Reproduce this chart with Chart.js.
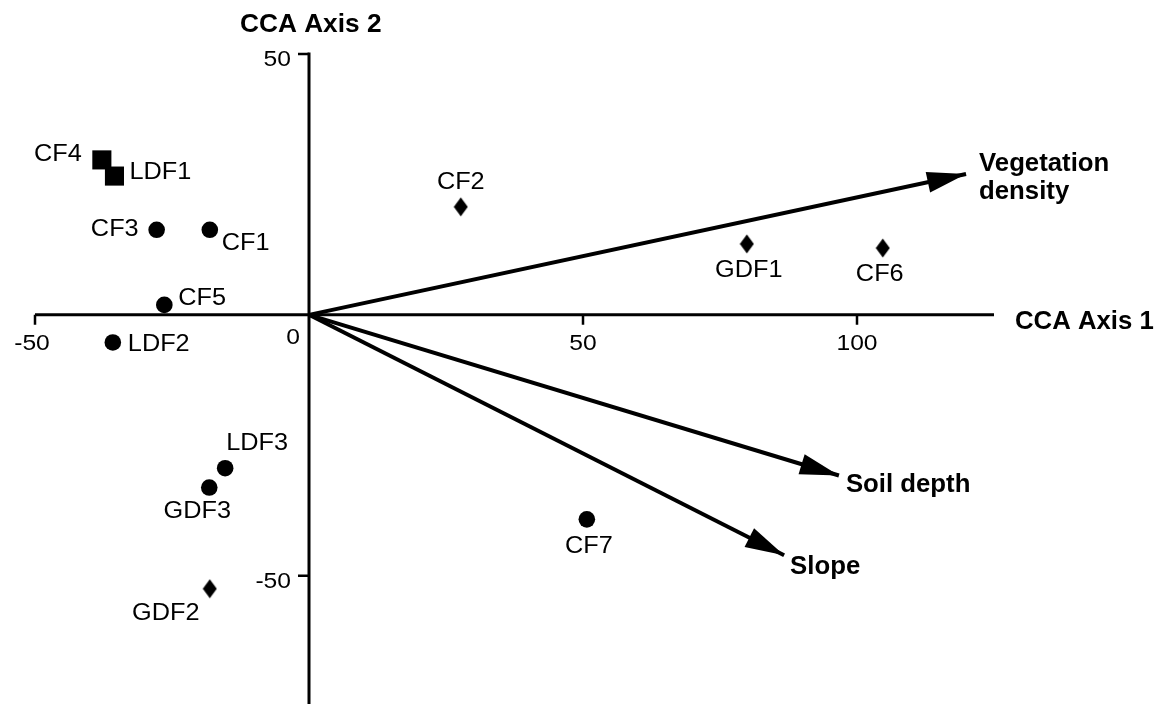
<!DOCTYPE html>
<html>
<head>
<meta charset="utf-8">
<title>CCA ordination</title>
<script src="https://cdn.jsdelivr.net/npm/chart.js@4.4.1/dist/chart.umd.min.js"></script>
<style>
  html, body { margin: 0; padding: 0; background: #fff; }
  #wrap { width: 1163px; height: 704px; position: relative; }
</style>
</head>
<body>
<div id="wrap"><canvas id="ccaChart" width="1163" height="704"></canvas></div>
<script>
// Site scores (CCA axis 1, CCA axis 2), grouped by marker
const squareSites = ["CF4", "LDF1"];
const squareX = [-37.8, -35.5];
const squareY = [29.7, 26.6];

const circleSites = ["CF3", "CF1", "CF5", "LDF2", "LDF3", "GDF3", "CF7"];
const circleX = [-27.8, -18.1, -26.4, -35.8, -15.3, -18.2, 50.7];
const circleY = [16.3, 16.3, 1.9, -5.3, -29.4, -33.1, -39.2];

const diamondSites = ["CF2", "GDF1", "CF6", "GDF2"];
const diamondX = [27.7, 79.9, 104.7, -18.1];
const diamondY = [20.7, 13.6, 12.8, -52.5];

// Environmental variable arrows (tip coordinates)
const envNames = ["Vegetation density", "Soil depth", "Slope"];
const envX = [119.9, 96.7, 86.7];
const envY = [27.0, -30.8, -46.1];

// Axis ticks
const xTicks = [-50, 50, 100];
const yTicks = [50, -50];

// Label placement relative to each marker (pixels): dx, dy, align
const labelPlacement = {
    CF4: [-20, -5, "right"],
    LDF1: [15, -3, "left"],
    CF3: [-18, 0, "right"],
    CF1: [12, 14, "left"],
    CF5: [14, -6, "left"],
    LDF2: [15, 2, "left"],
    LDF3: [1, -25, "left"],
    GDF3: [-12, 24, "center"],
    CF7: [2, 27, "center"],
    CF2: [0, -24, "center"],
    GDF1: [2, 27, "center"],
    CF6: [-3, 27, "center"],
    GDF2: [-44, 25, "center"]
};

const toPoints = (xs, ys) => xs.map((x, i) => ({ x: x, y: ys[i] }));

// Diamond marker (slightly taller than wide)
function makeDiamond() {
    const c = document.createElement("canvas");
    c.width = 15;
    c.height = 20;
    const g = c.getContext("2d");
    g.fillStyle = "#000";
    g.beginPath();
    g.moveTo(7.5, 0.5);
    g.lineTo(14.5, 10);
    g.lineTo(7.5, 19.5);
    g.lineTo(0.5, 10);
    g.closePath();
    g.fill();
    return c;
}

// Text with slight horizontal stretch like the scanned figure
function drawText(ctx, text, x, y, align, font, hscale) {
    ctx.save();
    ctx.font = font;
    ctx.fillStyle = "#000";
    ctx.textAlign = align;
    ctx.textBaseline = "middle";
    ctx.translate(x, y);
    ctx.scale(hscale, 1);
    ctx.fillText(text, 0, 0);
    ctx.restore();
}

const regFont = "23px 'Liberation Sans', Arial, sans-serif";
const tickFont = "22px 'Liberation Sans', Arial, sans-serif";
const boldFont = "bold 25px 'Liberation Sans', Arial, sans-serif";

const ordinationPlugin = {
    id: "ordination",
    beforeDatasetsDraw(chart) {
        const ctx = chart.ctx;
        const xs = chart.scales.x;
        const ys = chart.scales.y;
        const ox = xs.getPixelForValue(0);
        const oy = ys.getPixelForValue(0);

        ctx.save();
        ctx.strokeStyle = "#000";
        ctx.lineWidth = 3;
        ctx.lineCap = "butt";
        // axes through the origin
        ctx.beginPath();
        ctx.moveTo(xs.getPixelForValue(xs.min), oy);
        ctx.lineTo(xs.getPixelForValue(xs.max), oy);
        ctx.moveTo(ox, ys.getPixelForValue(ys.max) - 1.5);
        ctx.lineTo(ox, ys.getPixelForValue(ys.min));
        ctx.stroke();

        // tick marks
        ctx.lineWidth = 2.5;
        ctx.beginPath();
        xTicks.forEach(v => {
            const px = xs.getPixelForValue(v);
            ctx.moveTo(px, oy);
            ctx.lineTo(px, oy + 10);
        });
        yTicks.forEach(v => {
            const py = ys.getPixelForValue(v);
            ctx.moveTo(ox, py);
            ctx.lineTo(ox - 11, py);
        });
        ctx.stroke();
        ctx.restore();

        // tick labels
        xTicks.forEach(v => {
            drawText(ctx, String(v), xs.getPixelForValue(v) - (v < 0 ? 3 : 0), oy + 29, "center", tickFont, 1.12);
        });
        yTicks.forEach(v => {
            drawText(ctx, String(v), ox - 18, ys.getPixelForValue(v) + 6, "right", tickFont, 1.12);
        });
        drawText(ctx, "0", ox - 9, oy + 23, "right", tickFont, 1.12);

        // axis titles
        drawText(ctx, "CCA Axis 1", xs.getPixelForValue(xs.max) + 21, oy + 7, "left", boldFont, 1.03);
        drawText(ctx, "CCA Axis 2", ox - 69, 25, "left", boldFont, 1.05);
    },
    afterDatasetsDraw(chart) {
        const ctx = chart.ctx;
        const xs = chart.scales.x;
        const ys = chart.scales.y;
        const ox = xs.getPixelForValue(0);
        const oy = ys.getPixelForValue(0);

        // arrowheads
        envNames.forEach((name, i) => {
            const tx = xs.getPixelForValue(envX[i]);
            const ty = ys.getPixelForValue(envY[i]);
            const ang = Math.atan2(ty - oy, tx - ox);
            const len = 39, half = 10.5;
            const bx = tx - Math.cos(ang) * len;
            const by = ty - Math.sin(ang) * len;
            ctx.save();
            ctx.fillStyle = "#000";
            ctx.beginPath();
            ctx.moveTo(tx, ty);
            ctx.lineTo(bx - Math.sin(ang) * half, by + Math.cos(ang) * half);
            ctx.lineTo(bx + Math.sin(ang) * half, by - Math.cos(ang) * half);
            ctx.closePath();
            ctx.fill();
            ctx.restore();
        });

        // arrow labels
        const vx = xs.getPixelForValue(envX[0]);
        const vy = ys.getPixelForValue(envY[0]);
        drawText(ctx, "Vegetation", vx + 13, vy - 10, "left", boldFont, 1.03);
        drawText(ctx, "density", vx + 13, vy + 18, "left", boldFont, 1.03);
        drawText(ctx, "Soil depth", xs.getPixelForValue(envX[1]) + 7, ys.getPixelForValue(envY[1]) + 10, "left", boldFont, 1.03);
        drawText(ctx, "Slope", xs.getPixelForValue(envX[2]) + 6, ys.getPixelForValue(envY[2]) + 12, "left", boldFont, 1.03);

        // site labels
        const allSites = [
            [squareSites, squareX, squareY],
            [circleSites, circleX, circleY],
            [diamondSites, diamondX, diamondY]
        ];
        allSites.forEach(([names, sx, sy]) => {
            names.forEach((name, i) => {
                const p = labelPlacement[name];
                drawText(ctx, name, xs.getPixelForValue(sx[i]) + p[0], ys.getPixelForValue(sy[i]) + p[1], p[2], regFont, 1.1);
            });
        });
    }
};

// Arrow shafts as line datasets from the origin
const arrowSets = envNames.map((name, i) => ({
    type: "line",
    label: name,
    data: [{ x: 0, y: 0 }, { x: envX[i], y: envY[i] }],
    borderColor: "#000",
    borderWidth: 4,
    pointRadius: 0,
    tension: 0,
    clip: false
}));

const ctx = document.getElementById("ccaChart").getContext("2d");
const chart = new Chart(ctx, {
    type: "scatter",
    data: {
        datasets: [
            ...arrowSets,
            {
                label: "squares",
                data: toPoints(squareX, squareY),
                pointStyle: "rect",
                pointRadius: 13.5,
                backgroundColor: "#000",
                borderWidth: 0,
                clip: false
            },
            {
                label: "circles",
                data: toPoints(circleX, circleY),
                pointStyle: "circle",
                pointRadius: 8.3,
                backgroundColor: "#000",
                borderWidth: 0,
                clip: false
            },
            {
                label: "diamonds",
                data: toPoints(diamondX, diamondY),
                pointStyle: makeDiamond(),
                pointRadius: 10,
                backgroundColor: "#000",
                borderWidth: 0,
                clip: false
            }
        ]
    },
    options: {
        responsive: false,
        animation: false,
        events: [],
        layout: { autoPadding: false, padding: { left: 35, right: 169, top: 54, bottom: 0 } },
        scales: {
            x: { type: "linear", min: -50, max: 125, display: false },
            y: { type: "linear", min: -74.6, max: 50, display: false }
        },
        plugins: {
            legend: { display: false },
            tooltip: { enabled: false }
        }
    },
    plugins: [ordinationPlugin]
});
</script>
</body>
</html>
